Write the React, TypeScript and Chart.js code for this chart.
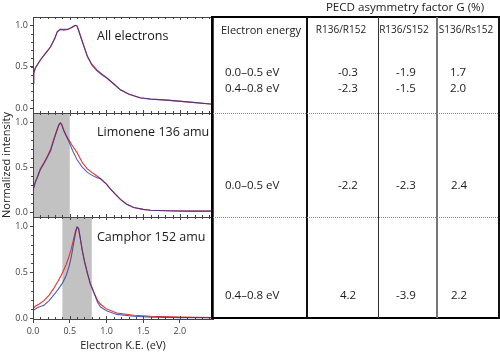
import React, { useEffect, useRef } from "react";
import { Chart, registerables } from "chart.js";
Chart.register(...registerables);

// ---- Data (electron kinetic energy in eV, normalized intensity) ----
const allX = [0, 0.01, 0.03, 0.1, 0.17, 0.24, 0.3, 0.33, 0.37, 0.42, 0.47, 0.52, 0.56, 0.58, 0.6, 0.62, 0.68, 0.74, 0.8, 0.87, 0.94, 1.01, 1.1, 1.19, 1.3, 1.46, 1.6, 1.82, 2.1, 2.45];
const allRed = [0.3, 0.42, 0.48, 0.58, 0.66, 0.74, 0.85, 0.92, 0.95, 0.94, 0.95, 0.97, 0.99, 1.0, 0.99, 0.94, 0.78, 0.63, 0.53, 0.46, 0.41, 0.36, 0.29, 0.22, 0.17, 0.124, 0.11, 0.096, 0.075, 0.045];
const allBlue = [0.3, 0.42, 0.48, 0.58, 0.66, 0.74, 0.85, 0.92, 0.95, 0.95, 0.95, 0.97, 0.99, 1.0, 0.99, 0.94, 0.78, 0.62, 0.52, 0.45, 0.4, 0.36, 0.29, 0.22, 0.17, 0.122, 0.108, 0.095, 0.074, 0.045];

const limX = [0, 0.03, 0.06, 0.1, 0.15, 0.19, 0.24, 0.28, 0.32, 0.35, 0.37, 0.39, 0.42, 0.46, 0.49, 0.54, 0.6, 0.67, 0.74, 0.8, 0.87, 0.92, 1.0, 1.05, 1.12, 1.19, 1.27, 1.37, 1.5, 1.6, 1.8, 2.1, 2.45];
const limRed = [0.24, 0.33, 0.39, 0.48, 0.55, 0.61, 0.7, 0.8, 0.9, 0.97, 0.99, 0.98, 0.91, 0.84, 0.8, 0.73, 0.66, 0.55, 0.48, 0.44, 0.4, 0.37, 0.31, 0.26, 0.2, 0.14, 0.09, 0.05, 0.03, 0.02, 0.015, 0.01, 0.01];
const limBlue = [0.24, 0.33, 0.39, 0.47, 0.54, 0.6, 0.68, 0.79, 0.89, 0.96, 0.99, 0.97, 0.9, 0.83, 0.78, 0.68, 0.58, 0.5, 0.44, 0.41, 0.38, 0.37, 0.31, 0.26, 0.2, 0.14, 0.09, 0.05, 0.03, 0.02, 0.015, 0.01, 0.01];

const camX = [0, 0.03, 0.08, 0.15, 0.22, 0.28, 0.34, 0.4, 0.45, 0.49, 0.52, 0.55, 0.58, 0.6, 0.62, 0.64, 0.67, 0.7, 0.74, 0.78, 0.83, 0.88, 0.92, 1.0, 1.14, 1.37, 1.6, 2.0, 2.45];
const camRed = [0.1, 0.13, 0.15, 0.19, 0.25, 0.32, 0.4, 0.49, 0.58, 0.67, 0.75, 0.85, 0.95, 0.99, 0.97, 0.88, 0.74, 0.62, 0.49, 0.38, 0.28, 0.19, 0.15, 0.1, 0.055, 0.03, 0.02, 0.01, 0.005];
const camBlue = [0.08, 0.1, 0.12, 0.14, 0.19, 0.25, 0.31, 0.38, 0.46, 0.56, 0.66, 0.8, 0.93, 0.99, 0.98, 0.89, 0.74, 0.62, 0.49, 0.37, 0.27, 0.17, 0.12, 0.08, 0.04, 0.02, 0.01, 0.005, 0.003];

// shaded energy windows (eV)
const limWindow = [0.0, 0.5];
const camWindow = [0.4, 0.8];

const xTicks = [0, 0.5, 1.0, 1.5, 2.0];
const yTicks = [0, 0.5, 1.0];

// table content
const tableTitle = "PECD asymmetry factor G (%)";
const headers = ["Electron energy", "R136/R152", "R136/S152", "S136/Rs152"];
const energyRanges = ["0.0–0.5 eV", "0.4–0.8 eV"];
const allG = [["-0.3", "-1.9", "1.7"], ["-2.3", "-1.5", "2.0"]];
const limG = ["-2.2", "-2.3", "2.4"];
const camG = ["4.2", "-3.9", "2.2"];

const RED = "rgb(232,50,40)";
const BLUE = "rgba(40,50,160,0.78)";
const FONT = "'Open Sans', sans-serif";

const T = ({ x, y, s, size, align = "left", color = "#1a1a1a" }: any) => (
  <div
    style={{
      position: "absolute",
      left: x,
      top: y,
      transform: align === "center" ? "translate(-50%,-50%)" : "translate(0,-50%)",
      fontSize: size,
      lineHeight: 1,
      fontFamily: FONT,
      color,
      whiteSpace: "nowrap",
    }}
  >
    {s}
  </div>
);

const Line = ({ x, y, w, h, c, dashed }: any) => (
  <div
    style={{
      position: "absolute",
      left: x,
      top: y,
      width: w,
      height: dashed ? 0 : h,
      background: dashed ? "transparent" : c,
      borderTop: dashed ? `1px dotted ${c}` : undefined,
    }}
  />
);

export default function App() {
  const ref = useRef<HTMLCanvasElement>(null);

  useEffect(() => {
    const pts = (xs: number[], ys: number[]) => xs.map((x, i) => ({ x, y: ys[i] }));
    const ds = (label: string, xs: number[], ys: number[], color: string, axis: string) => ({
      label,
      data: pts(xs, ys),
      borderColor: color,
      borderWidth: 1.1,
      pointRadius: 0,
      tension: 0,
      fill: false,
      yAxisID: axis,
    });

    const yAxis = (min: number, weight: number, title?: string) => ({
      type: "linear",
      position: "left",
      stack: "panels",
      stackWeight: weight,
      min,
      max: 1.1,
      afterBuildTicks: (s: any) => {
        s.ticks = yTicks.map((v) => ({ value: v }));
      },
      afterFit: (s: any) => {
        s.width = 33;
      },
      ticks: {
        font: { size: 9, family: FONT },
        color: "#444",
        padding: 2,
        callback: (v: any) => Number(v).toFixed(1),
      },
      grid: { drawOnChartArea: false, tickLength: 3, color: "#444" },
      border: { color: "#444" },
      title: title
        ? { display: true, text: title, font: { size: 11, family: FONT }, color: "#222", padding: { top: 0, bottom: 0 } }
        : { display: false },
    });

    const panelPlugin = {
      id: "panels",
      beforeDatasetsDraw(chart: any) {
        const { ctx, scales } = chart;
        ctx.save();
        ctx.fillStyle = "#c2c2c2";
        const shade = (ax: string, w: number[]) => {
          const s = scales[ax];
          const x0 = scales.x.getPixelForValue(w[0]);
          const x1 = scales.x.getPixelForValue(w[1]);
          ctx.fillRect(x0, s.top, x1 - x0, s.bottom - s.top);
        };
        shade("yL", limWindow);
        shade("yC", camWindow);
        ctx.restore();
      },
      afterDraw(chart: any) {
        const { ctx, chartArea, scales } = chart;
        ctx.save();
        ctx.strokeStyle = "#444";
        ctx.lineWidth = 1;
        const xs = scales.x;
        for (const ax of ["yA", "yL", "yC"]) {
          const s = scales[ax];
          ctx.strokeRect(chartArea.left + 0.5, s.top + 0.5, chartArea.right - chartArea.left, s.bottom - s.top);
          for (let i = 0; i <= 24; i++) {
            const v = i / 10;
            const px = Math.round(xs.getPixelForValue(v)) + 0.5;
            const len = i % 5 === 0 ? 3 : 2;
            ctx.beginPath();
            ctx.moveTo(px, s.top);
            ctx.lineTo(px, s.top + len);
            ctx.moveTo(px, s.bottom);
            ctx.lineTo(px, s.bottom - len);
            ctx.stroke();
          }
          for (let i = 0; i <= 10; i++) {
            const py = Math.round(s.getPixelForValue(i / 10)) + 0.5;
            ctx.beginPath();
            ctx.moveTo(chartArea.left, py);
            ctx.lineTo(chartArea.left - 2, py);
            ctx.stroke();
          }
        }
        ctx.restore();
      },
    };

    const chart = new Chart(ref.current as HTMLCanvasElement, {
      type: "line",
      data: {
        // first dataset is drawn on top: blue (translucent) over red
        datasets: [
          ds("All S", allX, allBlue, BLUE, "yA"),
          ds("Lim S", limX, limBlue, BLUE, "yL"),
          ds("Cam S", camX, camBlue, BLUE, "yC"),
          ds("All R", allX, allRed, RED, "yA"),
          ds("Lim R", limX, limRed, RED, "yL"),
          ds("Cam R", camX, camRed, RED, "yC"),
        ],
      },
      options: {
        responsive: false,
        animation: false,
        devicePixelRatio: 1,
        layout: { padding: { top: 17, right: 2, left: 0, bottom: 0 } },
        plugins: { legend: { display: false }, tooltip: { enabled: false } },
        scales: {
          x: {
            type: "linear",
            position: "bottom",
            min: 0,
            max: 2.45,
            afterBuildTicks: (s: any) => {
              s.ticks = xTicks.map((v) => ({ value: v }));
            },
            afterFit: (s: any) => {
              s.height = 33;
            },
            ticks: {
              font: { size: 9, family: FONT },
              color: "#444",
              padding: 3,
              maxRotation: 0,
              callback: (v: any) => Number(v).toFixed(1),
            },
            grid: { drawOnChartArea: false, tickLength: 4, color: "#444" },
            border: { color: "#444" },
            title: {
              display: true,
              text: "Electron K.E. (eV)",
              font: { size: 11, family: FONT },
              color: "#222",
              padding: { top: 0, bottom: 0 },
            },
          },
          yC: yAxis(-0.01, 102),
          yL: yAxis(-0.055, 104, "Normalized intensity"),
          yA: yAxis(-0.06, 96),
        } as any,
      },
      plugins: [panelPlugin],
    } as any);
    return () => chart.destroy();
  }, []);

  const c1 = 348, c2 = 406, c3 = 459;
  return (
    <div style={{ position: "absolute", left: 0, top: 0, width: 500, height: 352, background: "#fff", overflow: "hidden" }}>
      <canvas ref={ref} width={215} height={352} style={{ position: "absolute", left: 0, top: 0, width: 215, height: 352 }} />
      {/* panel labels */}
      <T x={97} y={36} s="All electrons" size={12.5} />
      <T x={97} y={132} s="Limonene 136 amu" size={12.5} />
      <T x={97} y={237} s="Camphor 152 amu" size={12.5} />

      {/* table lines */}
      <Line x={211} y={16} w={289} h={2} c="#000" />
      <Line x={211} y={317} w={289} h={2} c="#000" />
      <Line x={211} y={16} w={2} h={303} c="#000" />
      <Line x={498} y={16} w={2} h={303} c="#111" />
      <Line x={306} y={17} w={2} h={301} c="#111" />
      <Line x={378} y={17} w={1} h={301} c="#333" />
      <Line x={436} y={17} w={1.5} h={301} c="#777" />
      <Line x={213} y={113} w={285} h={1} c="#888" dashed />
      <Line x={213} y={217} w={285} h={1} c="#888" dashed />

      {/* table text */}
      <T x={405} y={7} s={tableTitle} size={11.6} align="center" color="#222" />
      <T x={221} y={29} s={headers[0]} size={11} color="#222" />
      <T x={341} y={29} s={headers[1]} size={10} align="center" color="#222" />
      <T x={404} y={29} s={headers[2]} size={10} align="center" color="#222" />
      <T x={466} y={29} s={headers[3]} size={10} align="center" color="#222" />

      <T x={225} y={72} s={energyRanges[0]} size={11.5} />
      <T x={225} y={88} s={energyRanges[1]} size={11.5} />
      <T x={c1} y={72} s={allG[0][0]} size={11.5} align="center" />
      <T x={c2} y={72} s={allG[0][1]} size={11.5} align="center" />
      <T x={c3 - 1} y={72} s={allG[0][2]} size={11.5} align="center" />
      <T x={c1} y={88} s={allG[1][0]} size={11.5} align="center" />
      <T x={c2} y={88} s={allG[1][1]} size={11.5} align="center" />
      <T x={c3 - 1} y={88} s={allG[1][2]} size={11.5} align="center" />

      <T x={225} y={185} s={energyRanges[0]} size={11.5} />
      <T x={c1} y={185} s={limG[0]} size={11.5} align="center" />
      <T x={c2} y={185} s={limG[1]} size={11.5} align="center" />
      <T x={c3} y={185} s={limG[2]} size={11.5} align="center" />

      <T x={225} y={295} s={energyRanges[1]} size={11.5} />
      <T x={c1} y={295} s={camG[0]} size={11.5} align="center" />
      <T x={c2} y={295} s={camG[1]} size={11.5} align="center" />
      <T x={c3} y={295} s={camG[2]} size={11.5} align="center" />
    </div>
  );
}
